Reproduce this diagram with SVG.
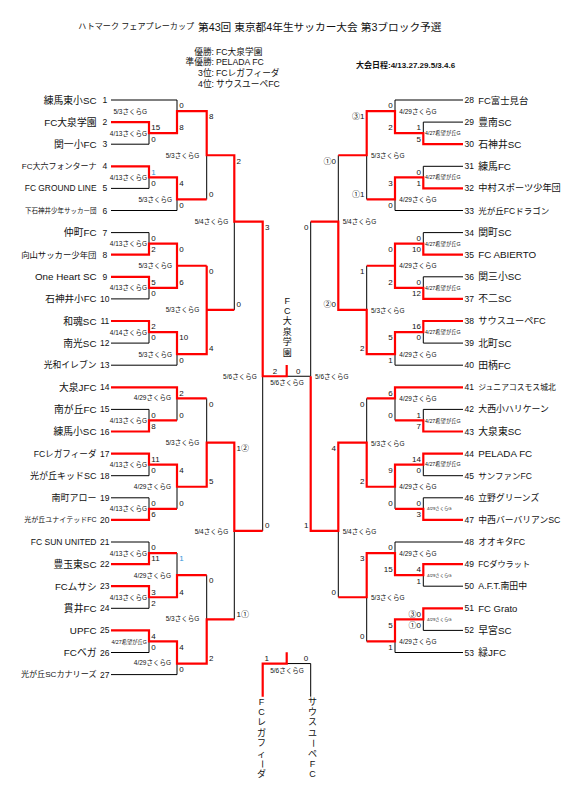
<svg xmlns="http://www.w3.org/2000/svg" width="583" height="795" viewBox="0 0 583 795">
<style>
text{font-family:"Liberation Sans","Noto Sans CJK JP",sans-serif;fill:#111;dominant-baseline:central}
.k{fill:none;stroke:#000;stroke-width:1}
.r{fill:none;stroke:#f00;stroke-width:2.2;stroke-linejoin:miter}
.nl{font-size:9.8px;text-anchor:end}
.nr{font-size:9.8px;text-anchor:start}
.no{font-size:8.5px;text-anchor:middle}
.sl{font-size:8px;text-anchor:start}
.sr{font-size:8px;text-anchor:end}
.sm{font-size:8px;text-anchor:middle}
.bl{fill:#2f95d8}
.ll{font-size:6.5px;text-anchor:end}
.lr{font-size:6.5px;text-anchor:start}
.lm{font-size:6.5px;text-anchor:middle}
.tn{font-size:5.3px;text-anchor:start}
.tnl{font-size:5.3px;text-anchor:end}
.tz{font-size:4.3px;text-anchor:start}
.hd{font-size:8.7px}
.vt{font-size:9px;text-anchor:middle}
</style>
<rect width="583" height="795" fill="#fff"/>
<g id="header">
<text x="78.3" y="26.7" style="font-size:8.1px">ハトマーク フェアプレーカップ</text>
<text x="198" y="26.7" style="font-size:10.7px">第43回 東京都4年生サッカー大会 第3ブロック予選</text>
<text class="hd" x="214" y="51.7" text-anchor="end">優勝:</text><text class="hd" x="216" y="51.7">FC大泉学園</text>
<text class="hd" x="214" y="62.3" text-anchor="end">準優勝:</text><text class="hd" x="216" y="62.3">PELADA FC</text>
<text class="hd" x="214" y="72.7" text-anchor="end">3位:</text><text class="hd" x="216" y="72.7">FCレガフィーダ</text>
<text class="hd" x="214" y="84.3" text-anchor="end">4位:</text><text class="hd" x="216" y="84.3">サウスユーペFC</text>
<text x="356" y="65" style="font-size:8px;font-weight:bold">大会日程:4/13.27.29.5/3.4.6</text>
</g>
<g id="connectors">
<path class="k" d="M111 100H177V111.05M111 144.2H149V133.15M111 188.4H149V177.35M111 210.5H177V199.45M206.7 155.25V199.45M111 232.6H149V243.65M111 298.9H149V287.85M111 343.1H149V332.05M111 365.2H177V354.15M234.3 221.55V309.95M262.7 376.25V530.95M286.7 376.25H310.7M111 409.4H149V420.45M177 398.35V420.45M111 475.7H149V464.65M111 497.8H149V508.85M177 486.75V508.85M206.7 398.35V442.55M111 542H149V553.05M177 553.05V575.15M111 608.3H149V597.25M111 652.5H149V641.45M111 674.6H177V663.55M206.7 575.15V619.35M234.3 530.95V619.35"/>
<path class="k" d="M463 100H395V111.05M463 122.1H423.3V133.15M463 166.3H423.3V177.35M463 210.5H395V199.45M366.7 155.25V199.45M463 232.6H423.3V243.65M463 276.8H423.3V287.85M366.7 265.75V309.95M463 343.1H423.3V332.05M463 365.2H395V354.15M338.3 155.25V221.55M310.7 221.55V376.25M463 409.4H423.3V420.45M395 398.35V420.45M463 475.7H423.3V464.65M463 497.8H423.3V508.85M395 486.75V508.85M366.7 398.35V442.55M463 542H395V553.05M463 586.2H423.3V575.15M463 630.4H423.3V619.35M463 652.5H395V641.45M366.7 597.25V641.45M338.3 530.95V597.25"/>
<path class="k" d="M286.7 663.55H310.7V696.7"/>
<path class="r" d="M111 122.1H149V133.15H177V111.05H206.7V155.25H234.3V221.55H262.7V376.25H286.7V365"/>
<path class="r" d="M111 166.3H149V177.35H177V199.45H206.7"/>
<path class="r" d="M111 254.7H149V243.65H177V287.85H149V276.8H111M177 265.75H206.7"/>
<path class="r" d="M111 321H149V332.05H177V354.15H206.7V265.75M206.7 309.95H234.3"/>
<path class="r" d="M111 387.3H177V398.35H206.7"/>
<path class="r" d="M111 431.5H149V420.45H177"/>
<path class="r" d="M111 453.6H149V464.65H177V486.75H206.7V442.55H234.3V530.95H262.7"/>
<path class="r" d="M111 519.9H149V508.85H177"/>
<path class="r" d="M111 564.1H149V553.05H177"/>
<path class="r" d="M111 586.2H149V597.25H177V575.15H206.7"/>
<path class="r" d="M111 630.4H149V641.45H177V663.55H206.7V619.35H234.3"/>
<path class="r" d="M463 144.2H423.3V133.15H395V111.05H366.7V155.25H338.3"/>
<path class="r" d="M463 188.4H423.3V177.35H395V199.45H366.7"/>
<path class="r" d="M463 254.7H423.3V243.65H395V287.85H423.3V298.9H463M395 265.75H366.7"/>
<path class="r" d="M463 321H423.3V332.05H395V354.15H366.7V309.95H338.3V221.55H310.7"/>
<path class="r" d="M463 387.3H395V398.35H366.7"/>
<path class="r" d="M463 431.5H423.3V420.45H395"/>
<path class="r" d="M463 453.6H423.3V464.65H395V486.75H366.7V442.55H338.3V530.95H310.7V376.25"/>
<path class="r" d="M463 519.9H423.3V508.85H395"/>
<path class="r" d="M463 564.1H423.3V575.15H395V553.05H366.7V597.25H338.3"/>
<path class="r" d="M463 608.3H423.3V619.35H395V641.45H366.7"/>
<path class="r" d="M262.7 696.7V663.55H286.7V652.3"/>
</g>
<g id="t1"><text class="nl" x="96.5" y="100">練馬東小SC</text><text class="no" x="104.8" y="100">1</text></g>
<g id="t2"><text class="nl" x="96.5" y="122.1">FC大泉学園</text><text class="no" x="104.8" y="122.1">2</text></g>
<g id="t3"><text class="nl" x="96.5" y="144.2">関一小FC</text><text class="no" x="104.8" y="144.2">3</text></g>
<g id="t4"><text class="nl" x="96.5" y="166.3" style="font-size:8px">FC大六フォンターナ</text><text class="no" x="104.8" y="166.3">4</text></g>
<g id="t5"><text class="nl" x="96.5" y="188.4" style="font-size:8.4px">FC GROUND LINE</text><text class="no" x="104.8" y="188.4">5</text></g>
<g id="t6"><text class="nl" x="96.5" y="210.5" style="font-size:6.5px">下石神井少年サッカー団</text><text class="no" x="104.8" y="210.5">6</text></g>
<g id="t7"><text class="nl" x="96.5" y="232.6">仲町FC</text><text class="no" x="104.8" y="232.6">7</text></g>
<g id="t8"><text class="nl" x="96.5" y="254.7" style="font-size:8.4px">向山サッカー少年団</text><text class="no" x="104.8" y="254.7">8</text></g>
<g id="t9"><text class="nl" x="96.5" y="276.8">One Heart SC</text><text class="no" x="104.8" y="276.8">9</text></g>
<g id="t10"><text class="nl" x="96.5" y="298.9" style="font-size:9.6px">石神井小FC</text><text class="no" x="104.8" y="298.9">10</text></g>
<g id="t11"><text class="nl" x="96.5" y="321">和魂SC</text><text class="no" x="104.8" y="321">11</text></g>
<g id="t12"><text class="nl" x="96.5" y="343.1">南光SC</text><text class="no" x="104.8" y="343.1">12</text></g>
<g id="t13"><text class="nl" x="96.5" y="365.2" style="font-size:8.8px">光和イレブン</text><text class="no" x="104.8" y="365.2">13</text></g>
<g id="t14"><text class="nl" x="96.5" y="387.3">大泉JFC</text><text class="no" x="104.8" y="387.3">14</text></g>
<g id="t15"><text class="nl" x="96.5" y="409.4">南が丘FC</text><text class="no" x="104.8" y="409.4">15</text></g>
<g id="t16"><text class="nl" x="96.5" y="431.5">練馬小SC</text><text class="no" x="104.8" y="431.5">16</text></g>
<g id="t17"><text class="nl" x="96.5" y="453.6" style="font-size:8.6px">FCレガフィーダ</text><text class="no" x="104.8" y="453.6">17</text></g>
<g id="t18"><text class="nl" x="96.5" y="475.7" style="font-size:9px">光が丘キッドSC</text><text class="no" x="104.8" y="475.7">18</text></g>
<g id="t19"><text class="nl" x="96.5" y="497.8" style="font-size:9px">南町アロー</text><text class="no" x="104.8" y="497.8">19</text></g>
<g id="t20"><text class="nl" x="96.5" y="519.9" style="font-size:7px">光が丘ユナイテッドFC</text><text class="no" x="104.8" y="519.9">20</text></g>
<g id="t21"><text class="nl" x="96.5" y="542" style="font-size:8.5px">FC SUN UNITED</text><text class="no" x="104.8" y="542">21</text></g>
<g id="t22"><text class="nl" x="96.5" y="564.1">豊玉東SC</text><text class="no" x="104.8" y="564.1">22</text></g>
<g id="t23"><text class="nl" x="96.5" y="586.2" style="font-size:9.6px">FCムサシ</text><text class="no" x="104.8" y="586.2">23</text></g>
<g id="t24"><text class="nl" x="96.5" y="608.3">貫井FC</text><text class="no" x="104.8" y="608.3">24</text></g>
<g id="t25"><text class="nl" x="96.5" y="630.4">UPFC</text><text class="no" x="104.8" y="630.4">25</text></g>
<g id="t26"><text class="nl" x="96.5" y="652.5">FCベガ</text><text class="no" x="104.8" y="652.5">26</text></g>
<g id="t27"><text class="nl" x="96.5" y="674.6" style="font-size:8.1px">光が丘SCカナリーズ</text><text class="no" x="104.8" y="674.6">27</text></g>
<g id="t28"><text class="no" x="469.2" y="100">28</text><text class="nr" x="478.3" y="100" style="font-size:9.4px">FC富士見台</text></g>
<g id="t29"><text class="no" x="469.2" y="122.1">29</text><text class="nr" x="478.3" y="122.1">豊南SC</text></g>
<g id="t30"><text class="no" x="469.2" y="144.2">30</text><text class="nr" x="478.3" y="144.2">石神井SC</text></g>
<g id="t31"><text class="no" x="469.2" y="166.3">31</text><text class="nr" x="478.3" y="166.3">練馬FC</text></g>
<g id="t32"><text class="no" x="469.2" y="188.4">32</text><text class="nr" x="478.3" y="188.4" style="font-size:9.2px">中村スポーツ少年団</text></g>
<g id="t33"><text class="no" x="469.2" y="210.5">33</text><text class="nr" x="478.3" y="210.5" style="font-size:8.5px">光が丘FCドラゴン</text></g>
<g id="t34"><text class="no" x="469.2" y="232.6">34</text><text class="nr" x="478.3" y="232.6">関町SC</text></g>
<g id="t35"><text class="no" x="469.2" y="254.7">35</text><text class="nr" x="478.3" y="254.7">FC ABIERTO</text></g>
<g id="t36"><text class="no" x="469.2" y="276.8">36</text><text class="nr" x="478.3" y="276.8">関三小SC</text></g>
<g id="t37"><text class="no" x="469.2" y="298.9">37</text><text class="nr" x="478.3" y="298.9">不二SC</text></g>
<g id="t38"><text class="no" x="469.2" y="321">38</text><text class="nr" x="478.3" y="321" style="font-size:9.2px">サウスユーペFC</text></g>
<g id="t39"><text class="no" x="469.2" y="343.1">39</text><text class="nr" x="478.3" y="343.1">北町SC</text></g>
<g id="t40"><text class="no" x="469.2" y="365.2">40</text><text class="nr" x="478.3" y="365.2">田柄FC</text></g>
<g id="t41"><text class="no" x="469.2" y="387.3">41</text><text class="nr" x="478.3" y="387.3" style="font-size:7.8px">ジュニアコスモス城北</text></g>
<g id="t42"><text class="no" x="469.2" y="409.4">42</text><text class="nr" x="478.3" y="409.4" style="font-size:8.9px">大西小ハリケーン</text></g>
<g id="t43"><text class="no" x="469.2" y="431.5">43</text><text class="nr" x="478.3" y="431.5">大泉東SC</text></g>
<g id="t44"><text class="no" x="469.2" y="453.6">44</text><text class="nr" x="478.3" y="453.6">PELADA FC</text></g>
<g id="t45"><text class="no" x="469.2" y="475.7">45</text><text class="nr" x="478.3" y="475.7" style="font-size:8.5px">サンファンFC</text></g>
<g id="t46"><text class="no" x="469.2" y="497.8">46</text><text class="nr" x="478.3" y="497.8" style="font-size:8.8px">立野グリーンズ</text></g>
<g id="t47"><text class="no" x="469.2" y="519.9">47</text><text class="nr" x="478.3" y="519.9" style="font-size:8.8px">中西バーバリアンSC</text></g>
<g id="t48"><text class="no" x="469.2" y="542">48</text><text class="nr" x="478.3" y="542" style="font-size:8.8px">オオキタFC</text></g>
<g id="t49"><text class="no" x="469.2" y="564.1">49</text><text class="nr" x="478.3" y="564.1" style="font-size:8.2px">FCダウラット</text></g>
<g id="t50"><text class="no" x="469.2" y="586.2">50</text><text class="nr" x="478.3" y="586.2" style="font-size:8.9px">A.F.T.南田中</text></g>
<g id="t51"><text class="no" x="469.2" y="608.3">51</text><text class="nr" x="478.3" y="608.3" style="font-size:9.5px">FC Grato</text></g>
<g id="t52"><text class="no" x="469.2" y="630.4">52</text><text class="nr" x="478.3" y="630.4">早宮SC</text></g>
<g id="t53"><text class="no" x="469.2" y="652.5">53</text><text class="nr" x="478.3" y="652.5">緑JFC</text></g>
<g id="finalists">
<text class="vt" x="287.3"><tspan x="287.3" y="300.7">F</tspan><tspan x="287.3" y="311">C</tspan><tspan x="287.3" y="321.3">大</tspan><tspan x="287.3" y="331.7">泉</tspan><tspan x="287.3" y="342.3">学</tspan><tspan x="287.3" y="352.7">園</tspan></text>
<text class="vt" x="261.5"><tspan x="261.5" y="701.7">F</tspan><tspan x="261.5" y="711.7">C</tspan><tspan x="261.5" y="722.3">レ</tspan><tspan x="261.5" y="733">ガ</tspan><tspan x="261.5" y="743.3">フ</tspan><tspan x="261.5" y="754">ィ</tspan></text>
<text class="vt" x="261.5" y="764" transform="rotate(90 261.5 764)">ー</text>
<text class="vt" x="261.5" y="774.3">ダ</text>
<text class="vt" x="312.5"><tspan x="312.5" y="701.7">サ</tspan><tspan x="312.5" y="711.7">ウ</tspan><tspan x="312.5" y="722.3">ス</tspan><tspan x="312.5" y="733">ユ</tspan></text>
<text class="vt" x="312.5" y="743.3" transform="rotate(90 312.5 743.3)">ー</text>
<text class="vt" x="312.5"><tspan x="312.5" y="754">ペ</tspan><tspan x="312.5" y="764">F</tspan><tspan x="312.5" y="774.3">C</tspan></text>
</g>
<g id="scores">
<text class="sl" x="151.3" y="127.9">15</text><text class="sl" x="151.3" y="139">0</text>
<text class="sl" x="179.3" y="105.8">0</text><text class="sl" x="179.3" y="127.95">8</text>
<text class="sl bl" x="151.3" y="172.1">1</text><text class="sl" x="151.3" y="183.2">0</text>
<text class="sl" x="179.3" y="183.15">4</text><text class="sl" x="179.3" y="205.3">0</text>
<text class="sl" x="209" y="116.85">8</text><text class="sl" x="209" y="194.25">0</text>
<text class="sl" x="151.3" y="238.4">0</text><text class="sl" x="151.3" y="249.5">2</text>
<text class="sl" x="151.3" y="282.6">5</text><text class="sl" x="151.3" y="293.7">0</text>
<text class="sl" x="179.3" y="249.45">0</text><text class="sl" x="179.3" y="282.65">6</text>
<text class="sl" x="151.3" y="326.8">2</text><text class="sl" x="151.3" y="337.9">0</text>
<text class="sl" x="179.3" y="337.85">10</text><text class="sl" x="179.3" y="360">0</text>
<text class="sl" x="209" y="271.55">0</text><text class="sl" x="209" y="348.95">4</text>
<text class="sl" x="236.6" y="161.05">2</text><text class="sl" x="236.6" y="304.75">0</text>
<text class="sl" x="265" y="227.35">3</text><text class="sl" x="265" y="525.75">0</text>
<text class="sl" x="151.3" y="415.2">0</text><text class="sl" x="151.3" y="426.3">8</text>
<text class="sl" x="179.3" y="393.1">2</text><text class="sl" x="179.3" y="415.25">0</text>
<text class="sl" x="151.3" y="459.4">11</text><text class="sl" x="151.3" y="470.5">0</text>
<text class="sl" x="151.3" y="503.6">0</text><text class="sl" x="151.3" y="514.7">6</text>
<text class="sl" x="179.3" y="470.45">4</text><text class="sl" x="179.3" y="503.65">0</text>
<text class="sl" x="209" y="404.15">0</text><text class="sl" x="209" y="481.55">5</text>
<text class="sl" x="151.3" y="547.8">0</text><text class="sl" x="151.3" y="558.9">11</text>
<text class="sl" x="151.3" y="592">3</text><text class="sl" x="151.3" y="603.1">2</text>
<text class="sl bl" x="179.3" y="558.85">1</text><text class="sl" x="179.3" y="592.05">4</text>
<text class="sl" x="151.3" y="636.2">4</text><text class="sl" x="151.3" y="647.3">0</text>
<text class="sl" x="179.3" y="647.25">4</text><text class="sl" x="179.3" y="669.4">0</text>
<text class="sl" x="209" y="580.95">0</text><text class="sl" x="209" y="658.35">2</text>
<text class="sl" x="236.6" y="448.35">1②</text><text class="sl" x="236.6" y="614.15">1①</text>
<text class="sm" x="275" y="371">2</text><text class="sm" x="298.3" y="371">0</text>
<text class="sm" x="266.7" y="658.3">1</text><text class="sm" x="306" y="658.3">0</text>
<text class="sr" x="421" y="127.9">1</text><text class="sr" x="421" y="139">5</text>
<text class="sr" x="392.7" y="105.8">0</text><text class="sr" x="392.7" y="127.95">2</text>
<text class="sr" x="421" y="172.1">0</text><text class="sr" x="421" y="183.2">1</text>
<text class="sr" x="392.7" y="183.15">3</text><text class="sr" x="392.7" y="205.3">0</text>
<text class="sr" x="364.4" y="116.85">③1</text><text class="sr" x="364.4" y="194.25">①1</text>
<text class="sr" x="421" y="238.4">0</text><text class="sr" x="421" y="249.5">10</text>
<text class="sr" x="421" y="282.6">0</text><text class="sr" x="421" y="293.7">12</text>
<text class="sr" x="392.7" y="249.45">0</text><text class="sr" x="392.7" y="282.65">2</text>
<text class="sr" x="421" y="326.8">16</text><text class="sr" x="421" y="337.9">0</text>
<text class="sr" x="392.7" y="337.85">5</text><text class="sr" x="392.7" y="360">1</text>
<text class="sr" x="364.4" y="271.55">1</text><text class="sr" x="364.4" y="348.95">2</text>
<text class="sr" x="336" y="161.05">①0</text><text class="sr" x="336" y="304.75">②0</text>
<text class="sr" x="308.4" y="227.35">0</text><text class="sr" x="308.4" y="525.75">1</text>
<text class="sr" x="421" y="415.2">1</text><text class="sr" x="421" y="426.3">7</text>
<text class="sr" x="392.7" y="393.1">6</text><text class="sr" x="392.7" y="415.25">0</text>
<text class="sr" x="421" y="459.4">14</text><text class="sr" x="421" y="470.5">0</text>
<text class="sr" x="421" y="503.6">0</text><text class="sr" x="421" y="514.7">3</text>
<text class="sr" x="392.7" y="470.45">9</text><text class="sr" x="392.7" y="503.65">0</text>
<text class="sr" x="364.4" y="404.15">0</text><text class="sr" x="364.4" y="481.55">2</text>
<text class="sr" x="336" y="448.35">4</text><text class="sr" x="336" y="592.05">0</text>
<text class="sr" x="421" y="569.9">4</text><text class="sr" x="421" y="581">1</text>
<text class="sr" x="392.7" y="547.8">0</text><text class="sr" x="392.7" y="569.95">15</text>
<text class="sr" x="421" y="614.1">③0</text><text class="sr" x="421" y="625.2">①0</text>
<text class="sr" x="392.7" y="625.15">5</text><text class="sr" x="392.7" y="647.3">1</text>
<text class="sr" x="364.4" y="558.85">3</text><text class="sr" x="364.4" y="636.25">0</text>
</g>
<g id="labels">
<text class="ll" x="147" y="111.5">5/3さくらG</text>
<text class="ll" x="147" y="133.2">4/13さくらG</text>
<text class="ll" x="147" y="177.4">4/13さくらG</text>
<text class="ll" x="172" y="199.4">5/3さくらG</text>
<text class="ll" x="199.3" y="155.3">5/3さくらG</text>
<text class="ll" x="228.3" y="221.6">5/4さくらG</text>
<text class="ll" x="147" y="243.6">4/13さくらG</text>
<text class="ll" x="172" y="265.8">5/3さくらG</text>
<text class="ll" x="147" y="287.9">4/13さくらG</text>
<text class="ll" x="199.3" y="309">5/3さくらG</text>
<text class="ll" x="147" y="332.1">4/14さくらG</text>
<text class="ll" x="172" y="354.2">5/3さくらG</text>
<text class="ll" x="256.7" y="376.3">5/6さくらG</text>
<text class="ll" x="171" y="397.5">4/29さくらG</text>
<text class="ll" x="147" y="420.5">4/13さくらG</text>
<text class="ll" x="199.3" y="442.5">5/3さくらG</text>
<text class="ll" x="147" y="464.6">4/13さくらG</text>
<text class="ll" x="171" y="486.7">4/29さくらG</text>
<text class="ll" x="147" y="508.8">4/13さくらG</text>
<text class="ll" x="228.3" y="531">5/4さくらG</text>
<text class="ll" x="147" y="553.1">4/13さくらG</text>
<text class="ll" x="171" y="575.1">4/29さくらG</text>
<text class="ll" x="147" y="597.3">4/13さくらG</text>
<text class="ll" x="199.3" y="618.8">5/3さくらG</text>
<text class="tnl" x="147" y="641.5">4/27希望が丘G</text>
<text class="ll" x="171" y="662.9">4/29さくらG</text>
<text class="lm" x="287" y="382.3">5/6さくらG</text>
<text class="lm" x="287" y="670.7">5/6さくらG</text>
<text class="lr" x="315" y="376.3">5/6さくらG</text>
<text class="lr" x="399.3" y="111.5">4/29さくらG</text>
<text class="tn" x="425" y="133">4/27希望が丘G</text>
<text class="lr" x="371" y="155.5">5/3さくらG</text>
<text class="tn" x="425" y="177.4">4/27希望が丘G</text>
<text class="lr" x="399.3" y="199.4">4/29さくらG</text>
<text class="lr" x="342.7" y="221.6">5/4さくらG</text>
<text class="tn" x="425" y="243.8">4/27希望が丘G</text>
<text class="lr" x="399.3" y="265.8">4/29さくらG</text>
<text class="tn" x="425" y="288">4/27希望が丘G</text>
<text class="lr" x="371" y="310">5/3さくらG</text>
<text class="tn" x="425" y="332.3">4/27希望が丘G</text>
<text class="lr" x="399.3" y="354.5">4/29さくらG</text>
<text class="lr" x="399.3" y="398.5">4/29さくらG</text>
<text class="tn" x="425" y="420.6">4/27希望が丘G</text>
<text class="lr" x="371" y="443">5/3さくらG</text>
<text class="tn" x="425" y="464.4">4/27希望が丘G</text>
<text class="lr" x="399.3" y="486.7">4/29さくらG</text>
<text class="tz" x="427" y="508.6">4/29さくらG</text>
<text class="lr" x="342.7" y="531.3">5/4さくらG</text>
<text class="lr" x="399.3" y="553.3">4/29さくらG</text>
<text class="tz" x="427" y="575.2">4/29さくらG</text>
<text class="lr" x="371" y="597.5">5/3さくらG</text>
<text class="tz" x="427" y="619.4">4/29さくらG</text>
<text class="lr" x="399.3" y="641.6">4/29さくらG</text>
</g>
</svg>
